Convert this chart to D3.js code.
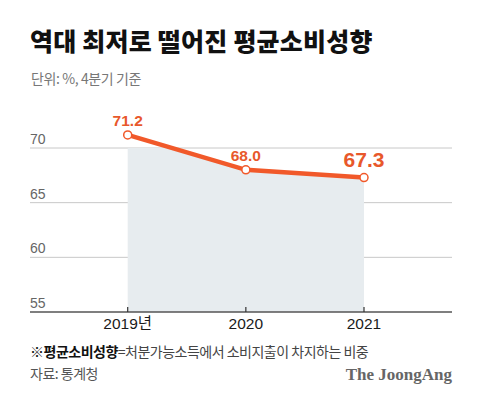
<!DOCTYPE html>
<html><head><meta charset="utf-8">
<script src="https://cdn.jsdelivr.net/npm/d3@7"></script>
<style>
body{margin:0;background:#fff;}
svg{display:block;}
</style></head>
<body><svg id="chart" width="480" height="401"></svg>
<script>
const years = ["2019", "2020", "2021"];
const yearLabels = ["2019년", "2020", "2021"];
const values = [71.2, 68.0, 67.3];
const valueLabels = ["71.2", "68.0", "67.3"];
const yTicks = [55, 60, 65, 70];

const svg = d3.select("#chart");
const KR = "'Noto Sans CJK KR', sans-serif";
const NUM = "'Liberation Sans', 'Noto Sans CJK KR', sans-serif";
const orange = "#f1592a";

const left = 30, right = 452;
const x = d3.scalePoint().domain(years).range([127.7, 364]);
const y = d3.scaleLinear().domain([55, 70]).range([312, 148]);

// Title
svg.append("text").attr("x", 30).attr("y", 51)
  .attr("font-family", KR).attr("font-weight", 900).attr("font-size", 25)
  .attr("letter-spacing", 0.2).attr("fill", "#111")
  .text("역대 최저로 떨어진 평균소비성향");
svg.append("text").attr("x", 31).attr("y", 84)
  .attr("font-family", KR).attr("font-size", 14).attr("fill", "#777")
  .attr("letter-spacing", -0.4)
  .text("단위: %, 4분기 기준");

// Gridlines
svg.append("g").selectAll("line").data(yTicks.filter(d => d > 55)).join("line")
  .attr("x1", left).attr("x2", right)
  .attr("y1", d => y(d)).attr("y2", d => y(d))
  .attr("stroke", "#c8c8c8").attr("stroke-width", 1);

// y tick labels
svg.append("g").selectAll("text").data(yTicks).join("text")
  .attr("x", left).attr("y", d => y(d) - 4)
  .attr("font-family", NUM).attr("font-size", 14).attr("fill", "#666")
  .text(d => d);

// Area clipped below 70
const defs = svg.append("defs");
defs.append("clipPath").attr("id", "clipArea").append("rect")
  .attr("x", 0).attr("y", y(70)).attr("width", 480).attr("height", y(55) - y(70));
const data = years.map((yr, i) => ({yr, v: values[i]}));
svg.append("path").datum(data)
  .attr("clip-path", "url(#clipArea)")
  .attr("fill", "#e7ecef")
  .attr("d", d3.area().x(d => x(d.yr)).y0(y(55)).y1(d => y(d.v)));

// x axis
const xAxis = svg.append("g").attr("transform", `translate(0,${y(55)})`);
xAxis.append("line").attr("x1", left).attr("x2", right)
  .attr("stroke", "#555").attr("stroke-width", 1.5);
xAxis.selectAll("line.tick").data(years).join("line").attr("class", "tick")
  .attr("x1", d => x(d)).attr("x2", d => x(d)).attr("y1", 0).attr("y2", -5)
  .attr("stroke", "#333").attr("stroke-width", 1.2);
xAxis.selectAll("text").data(years).join("text")
  .attr("x", d => x(d)).attr("y", 17).attr("text-anchor", "middle")
  .attr("font-family", NUM).attr("font-size", 15.5).attr("fill", "#1a1a1a")
  .text((d, i) => yearLabels[i]);

// Line
svg.append("path").datum(data)
  .attr("fill", "none").attr("stroke", orange).attr("stroke-width", 4.5)
  .attr("d", d3.line().x(d => x(d.yr)).y(d => y(d.v)));
svg.append("g").selectAll("circle").data(data).join("circle")
  .attr("cx", d => x(d.yr)).attr("cy", d => y(d.v)).attr("r", 4)
  .attr("fill", "#fff").attr("stroke", orange).attr("stroke-width", 1.5);

// Value labels
svg.append("g").selectAll("text").data(data).join("text")
  .attr("x", d => x(d.yr)).attr("y", (d, i) => y(d.v) - (i === 2 ? 11 : 9))
  .attr("text-anchor", "middle")
  .attr("font-family", NUM).attr("font-weight", 700)
  .attr("font-size", (d, i) => i === 2 ? 21 : 15.5)
  .attr("fill", "#e8582b")
  .text((d, i) => valueLabels[i]);

// Footnote
const fn = svg.append("text").attr("x", 30).attr("y", 357)
  .attr("font-family", KR).attr("font-size", 14).attr("fill", "#444").attr("letter-spacing", -0.5);
fn.append("tspan").attr("font-weight", 700).attr("fill", "#111").text("※평균소비성향");
fn.append("tspan").text("=처분가능소득에서 소비지출이 차지하는 비중");
svg.append("text").attr("x", 30).attr("y", 379)
  .attr("font-family", KR).attr("font-size", 14).attr("fill", "#555").attr("letter-spacing", -0.5)
  .text("자료: 통계청");
svg.append("text").attr("x", 452).attr("y", 380).attr("text-anchor", "end")
  .attr("font-family", "'Liberation Serif', serif").attr("font-weight", 700)
  .attr("font-size", 17).attr("fill", "#666")
  .text("The JoongAng");
</script></body></html>
